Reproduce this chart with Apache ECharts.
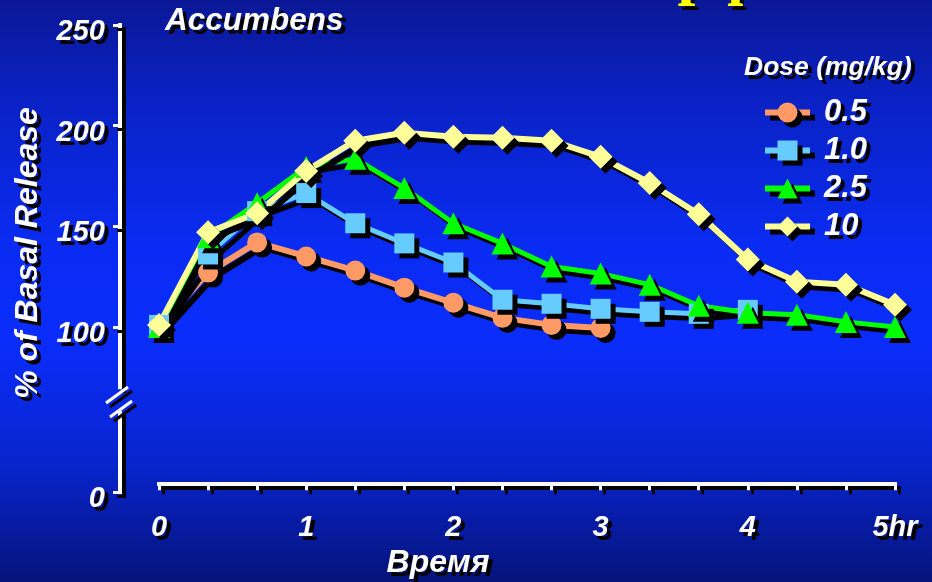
<!DOCTYPE html>
<html>
<head>
<meta charset="utf-8">
<script src="https://cdn.jsdelivr.net/npm/echarts@6/dist/echarts.min.js"></script>
<style>
  html, body { margin: 0; padding: 0; background: #0a24d0; }
  #chart { width: 932px; height: 582px; }
</style>
</head>
<body>
<div id="chart"></div>
<script>
// Sampling times in minutes (every 20 min over 5 h)
const times = [0, 20, 40, 60, 80, 100, 120, 140, 160, 180, 200, 220, 240, 260, 280, 300];

// % of basal release per dose (mg/kg)
const dose05 = [100, 127, 142, 135, 128, 119.5, 112, 104.5, 101, 99.5];
const dose10 = [101, 136, 157.5, 166.5, 151.5, 141.5, 132, 113.5, 111.5, 109, 107.5, 106.5, 108.5];
const dose25 = [100, 144.5, 161.5, 179.5, 183.5, 169, 151.5, 141.5, 130, 126.5, 121, 110.5, 107, 106, 102.5, 100];
const dose100 = [101, 147, 156.5, 177.5, 192.5, 196.5, 194.5, 194, 192.5, 184.5, 171.5, 156, 133.5, 122.5, 121, 111];

const seriesNames = ['0.5', '1.0', '2.5', '10'];
const yTicksUpper = [100, 150, 200, 250];
const yTicksLower = [0];
const hourLabels = { 0: '0', 60: '1', 120: '2', 180: '3', 240: '4', 300: '5hr' };

const FONT = '"Liberation Sans", Arial, sans-serif';
const textShadow = { textShadowColor: '#000', textShadowOffsetX: 4, textShadowOffsetY: 4, textShadowBlur: 0.5 };
const boldItalic = { color: '#fff', fontFamily: FONT, fontWeight: 'bold', fontStyle: 'italic' };
const dropShadow = { shadowColor: '#000', shadowOffsetX: 5, shadowOffsetY: 5, shadowBlur: 0 };
const axisShadow = { shadowColor: '#000', shadowOffsetX: 4, shadowOffsetY: 4, shadowBlur: 0 };

function pairs(values) {
  return values.map((v, i) => [times[i], v]);
}

function lineSeries(name, values, color, symbol, size, width) {
  return {
    name: name,
    type: 'line',
    xAxisIndex: 0,
    yAxisIndex: 0,
    data: pairs(values),
    symbol: symbol,
    symbolSize: size,
    showAllSymbol: true,
    lineStyle: Object.assign({ color: color, width: width }, dropShadow),
    itemStyle: Object.assign({ color: color, opacity: 1 }, dropShadow),
    emphasis: { disabled: true },
    animation: false
  };
}

const chart = echarts.init(document.getElementById('chart'), null, { renderer: 'canvas' });

const gfxText = (text, x, y, size, extra) => ({
  type: 'text',
  x: x,
  y: y,
  z: 100,
  style: Object.assign({
    text: text,
    fill: '#fff',
    fontFamily: FONT,
    fontWeight: 'bold',
    fontStyle: 'italic',
    fontSize: size,
    textShadowColor: '#000',
    textShadowOffsetX: 4,
    textShadowOffsetY: 4,
    textShadowBlur: 0.5
  }, extra || {})
});

const axisLineStyle = Object.assign({ color: '#fff', width: 4, cap: 'square' }, axisShadow);
const tickLineStyle = Object.assign({ color: '#fff', width: 3 }, axisShadow);

// y labels sit slightly below their ticks
const yLabelBase = Object.assign({ fontSize: 29, margin: 15, verticalAlign: 'top', lineHeight: 14 }, boldItalic, textShadow);

const option = {
  animation: false,
  backgroundColor: {
    type: 'linear', x: 0, y: 0, x2: 0, y2: 1,
    colorStops: [
      { offset: 0, color: '#0a1896' },
      { offset: 0.18, color: '#0a22c6' },
      { offset: 0.42, color: '#0a2bf2' },
      { offset: 0.58, color: '#0b2dfc' },
      { offset: 0.8, color: '#0824cc' },
      { offset: 1, color: '#05137a' }
    ]
  },
  grid: [
    { left: 159, right: 37, top: 25, height: 362.3 },
    { left: 159, right: 37, top: 413, height: 79 }
  ],
  xAxis: [
    {
      gridIndex: 0, type: 'value', min: 0, max: 300, interval: 20, offset: 96,
      axisLine: { show: true, onZero: false, lineStyle: axisLineStyle },
      axisTick: { show: true, length: 7, lineStyle: tickLineStyle },
      axisLabel: Object.assign({
        fontSize: 29, margin: 30,
        formatter: v => (hourLabels[v] !== undefined ? hourLabels[v] : '')
      }, boldItalic, textShadow),
      splitLine: { show: false }
    },
    { gridIndex: 1, type: 'value', min: 0, max: 300, show: false }
  ],
  yAxis: [
    {
      gridIndex: 0, type: 'value', min: 70, max: 250, offset: 39,
      axisLine: { show: true, onZero: false, lineStyle: axisLineStyle },
      axisTick: { show: true, length: 7, customValues: yTicksUpper, lineStyle: tickLineStyle },
      axisLabel: Object.assign({ customValues: yTicksUpper }, yLabelBase),
      splitLine: { show: false }
    },
    {
      gridIndex: 1, type: 'value', min: 0, max: 10, offset: 39,
      axisLine: { show: true, onZero: false, lineStyle: axisLineStyle },
      axisTick: { show: true, length: 7, customValues: yTicksLower, lineStyle: tickLineStyle },
      axisLabel: Object.assign({ customValues: yTicksLower }, yLabelBase),
      splitLine: { show: false }
    }
  ],
  legend: {
    data: seriesNames,
    orient: 'vertical',
    left: 757,
    top: 92,
    itemWidth: 45,
    itemHeight: 25,
    itemGap: 7,
    textStyle: Object.assign({ fontSize: 31, lineHeight: 30, padding: [0, 0, 0, 9] }, boldItalic, textShadow),
    itemStyle: dropShadow,
    lineStyle: Object.assign({ width: 6 }, dropShadow),
    selectedMode: false
  },
  series: [
    lineSeries(seriesNames[0], dose05, '#ff9966', 'circle', 20, 6),
    lineSeries(seriesNames[1], dose10, '#66ccff', 'rect', 20, 5),
    lineSeries(seriesNames[2], dose25, '#00ff00', 'triangle', 22, 5),
    lineSeries(seriesNames[3], dose100, '#ffff99', 'diamond', 24, 6)
  ],
  graphic: [
    gfxText('Морфин', 586, 7, 64, { fill: '#ffff00', fontFamily: '"Liberation Serif", "Times New Roman", serif', fontStyle: 'normal', verticalAlign: 'bottom' }),
    gfxText('Accumbens', 165, 21, 31.5, { verticalAlign: 'middle' }),
    gfxText('Dose (mg/kg)', 744, 68, 26.5, { verticalAlign: 'middle' }),
    gfxText('% of Basal Release', 28, 253, 32, { align: 'center', verticalAlign: 'middle' }),
    gfxText('Время', 438, 563, 32, { align: 'center', verticalAlign: 'middle' }),
    // axis break marks
    { type: 'line', z: 100, shape: { x1: 106, y1: 403, x2: 128, y2: 387 },
      style: Object.assign({ stroke: '#fff', lineWidth: 3 }, axisShadow) },
    { type: 'line', z: 100, shape: { x1: 110, y1: 417, x2: 132, y2: 401 },
      style: Object.assign({ stroke: '#fff', lineWidth: 3 }, axisShadow) }
  ]
};
option.graphic[3].rotation = Math.PI / 2;

chart.setOption(option);
</script>
</body>
</html>
